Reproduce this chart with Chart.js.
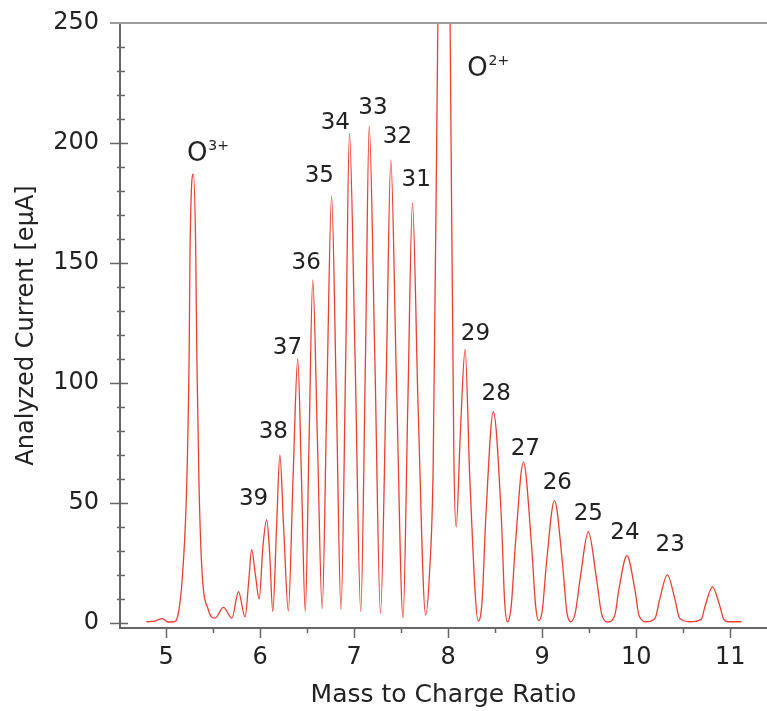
<!DOCTYPE html>
<html>
<head>
<meta charset="utf-8">
<script src="https://cdn.jsdelivr.net/npm/chart.js@4.4.1/dist/chart.umd.min.js"></script>
<style>
  html, body { margin: 0; padding: 0; background: #fff; }
</style>
</head>
<body>
<canvas id="spectrum" width="767" height="711"></canvas>
<script>
// spectrum: mass-to-charge ratio vs analyzed current (euA)
const massX = [
  4.79, 4.88, 4.96, 5.02, 5.08, 5.13, 5.18, 5.22, 5.245, 5.255, 5.29, 5.315, 5.327, 5.35, 5.38, 5.45,
  5.52, 5.61, 5.70, 5.77, 5.84, 5.88, 5.91, 5.95, 5.99, 6.03, 6.07, 6.10, 6.135,
  6.175, 6.21, 6.25, 6.30, 6.35, 6.40, 6.44, 6.48, 6.52, 6.56, 6.61, 6.66,
  6.71, 6.76, 6.81, 6.86, 6.91, 6.95, 7.01, 7.07, 7.12, 7.16, 7.22, 7.28,
  7.34, 7.39, 7.45, 7.52, 7.57, 7.62, 7.68, 7.76, 7.80, 7.84, 7.89, 7.955, 8.02, 8.06, 8.085,
  8.13, 8.18, 8.23, 8.32,
  8.36, 8.40, 8.48, 8.565, 8.60, 8.63,
  8.67, 8.715, 8.80, 8.885, 8.93, 8.96,
  9.00, 9.045, 9.13, 9.215, 9.26, 9.30,
  9.35, 9.405, 9.49, 9.575, 9.63, 9.69,
  9.77, 9.815, 9.90, 9.985, 10.03, 10.11,
  10.20, 10.25, 10.33, 10.41, 10.46, 10.57,
  10.69, 10.735, 10.81, 10.885, 10.93, 10.98, 11.12
];
const current = [
  0.5, 0.8, 1.8, 0.4, 0.5, 4, 23, 58, 111, 156, 187, 156, 111, 58, 23, 5.4,
  2, 6.5, 2, 13, 2.5, 18, 30.5, 20, 10, 32, 43, 30, 4.7,
  40, 70, 40, 5, 60, 110, 60, 4.7, 75, 143, 75, 6,
  95, 178, 95, 5.4, 110, 204, 110, 4.7, 110, 207, 110, 4,
  100, 193, 100, 2, 90, 175, 90, 3.3, 20, 65, 250, 480, 250, 70, 40,
  80, 114, 60, 0.8,
  9, 44, 88, 44, 9, 0.5,
  7, 33, 67, 33, 7, 1,
  5, 25, 51, 25, 5, 0.5,
  4, 19, 38, 19, 4, 0.4,
  3, 14, 28, 14, 3, 0.5,
  2, 10, 20, 10, 2, 0.5,
  1.5, 7.5, 15, 7.5, 1.5, 0.5, 0.5
];

const xTicks = [5, 6, 7, 8, 9, 10, 11];
const yTicks = [0, 50, 100, 150, 200, 250];

// charge-state labels above the peaks
const peakNames = ['39', '38', '37', '36', '35', '34', '33', '32', '31', '29', '28', '27', '26', '25', '24', '23'];
const peakNameX = [5.93, 6.14, 6.29, 6.49, 6.63, 6.80, 7.20, 7.46, 7.66, 8.29, 8.51, 8.82, 9.16, 9.49, 9.88, 10.36];
const peakNameY = [49, 77, 112, 147.6, 183.8, 205.8, 212, 200, 182, 118, 93, 70, 56, 43, 35, 30];

const ionNames = ['O', 'O'];
const ionCharges = ['3+', '2+'];
const ionX = [5.44, 8.42];
const ionY = [192.3, 227.8];

const points = massX.map((m, i) => ({ x: m, y: current[i] }));

const axisMarks = {
  id: 'axisMarks',
  afterDraw(chart) {
    const ctx = chart.ctx;
    const xs = chart.scales.x;
    const ys = chart.scales.y;
    const area = chart.chartArea;
    ctx.save();

    // top frame line at 250
    ctx.strokeStyle = '#9a9a9a';
    ctx.lineWidth = 2;
    ctx.beginPath();
    ctx.moveTo(area.left - 10, area.top);
    ctx.lineTo(area.right, area.top);
    ctx.stroke();

    // y ticks, crossing the axis
    ctx.strokeStyle = '#666';
    ctx.lineWidth = 1.5;
    for (let v = 0; v < 250; v += 10) {
      const py = Math.round(ys.getPixelForValue(v)) + 0.5;
      const major = v % 50 === 0;
      ctx.beginPath();
      ctx.moveTo(area.left - (major ? 10 : 3), py);
      ctx.lineTo(area.left + (major ? 8 : 5), py);
      ctx.stroke();
    }
    // x ticks, pointing down
    for (let v = 5; v <= 11; v += 0.5) {
      const px = Math.round(xs.getPixelForValue(v)) + 0.5;
      const major = Number.isInteger(v);
      ctx.beginPath();
      ctx.moveTo(px, area.bottom);
      ctx.lineTo(px, area.bottom + (major ? 10 : 5));
      ctx.stroke();
    }

    // peak labels
    ctx.fillStyle = '#222';
    ctx.textBaseline = 'alphabetic';
    ctx.textAlign = 'center';
    ctx.font = '23px "DejaVu Sans"';
    peakNames.forEach((t, i) => {
      ctx.fillText(t, xs.getPixelForValue(peakNameX[i]), ys.getPixelForValue(peakNameY[i]));
    });

    // ion labels with superscript charge
    ionNames.forEach((t, i) => {
      ctx.font = '26px "DejaVu Sans"';
      const w1 = ctx.measureText(t).width;
      ctx.font = '14px "DejaVu Sans"';
      const w2 = ctx.measureText(ionCharges[i]).width;
      const cx = xs.getPixelForValue(ionX[i]);
      const by = ys.getPixelForValue(ionY[i]);
      const left = cx - (w1 + w2) / 2;
      ctx.textAlign = 'left';
      ctx.font = '26px "DejaVu Sans"';
      ctx.fillText(t, left, by);
      ctx.font = '14px "DejaVu Sans"';
      ctx.fillText(ionCharges[i], left + w1 + 1, by - 11);
    });

    ctx.restore();
  }
};

new Chart(document.getElementById('spectrum'), {
  type: 'line',
  data: {
    datasets: [{
      data: points,
      borderColor: 'rgb(236, 62, 50)',
      borderWidth: 1.3,
      pointRadius: 0,
      fill: false,
      cubicInterpolationMode: 'monotone'
    }]
  },
  options: {
    responsive: false,
    animation: false,
    layout: { padding: { top: 23, right: 0, bottom: 0, left: 0 } },
    plugins: { legend: { display: false }, tooltip: { enabled: false } },
    scales: {
      x: {
        type: 'linear',
        min: 4.51,
        max: 11.39,
        afterBuildTicks: (s) => { s.ticks = xTicks.map(v => ({ value: v })); },
        afterFit: (s) => { s.height = 83; s.paddingLeft = 0; s.paddingRight = 0; },
        grid: { display: false, drawTicks: false },
        border: { display: true, color: '#666', width: 2 },
        ticks: {
          padding: 15,
          color: '#222',
          font: { family: 'DejaVu Sans', size: 24 },
          maxRotation: 0
        },
        title: {
          display: true,
          text: 'Mass to Charge Ratio',
          color: '#222',
          font: { family: 'DejaVu Sans', size: 25 },
          padding: { top: 0, bottom: 1 }
        }
      },
      y: {
        type: 'linear',
        min: -2.1,
        max: 250,
        afterBuildTicks: (s) => { s.ticks = yTicks.map(v => ({ value: v })); },
        afterFit: (s) => { s.width = 120; s.paddingTop = 0; s.paddingBottom = 0; },
        grid: { display: false, drawTicks: false },
        border: { display: true, color: '#666', width: 2 },
        ticks: {
          padding: 21,
          color: '#222',
          font: { family: 'DejaVu Sans', size: 24 }
        },
        title: {
          display: true,
          text: 'Analyzed Current [eμA]',
          color: '#222',
          font: { family: 'DejaVu Sans', size: 24 },
          padding: { top: 12, bottom: 0 }
        }
      }
    }
  },
  plugins: [axisMarks]
});
</script>
</body>
</html>
